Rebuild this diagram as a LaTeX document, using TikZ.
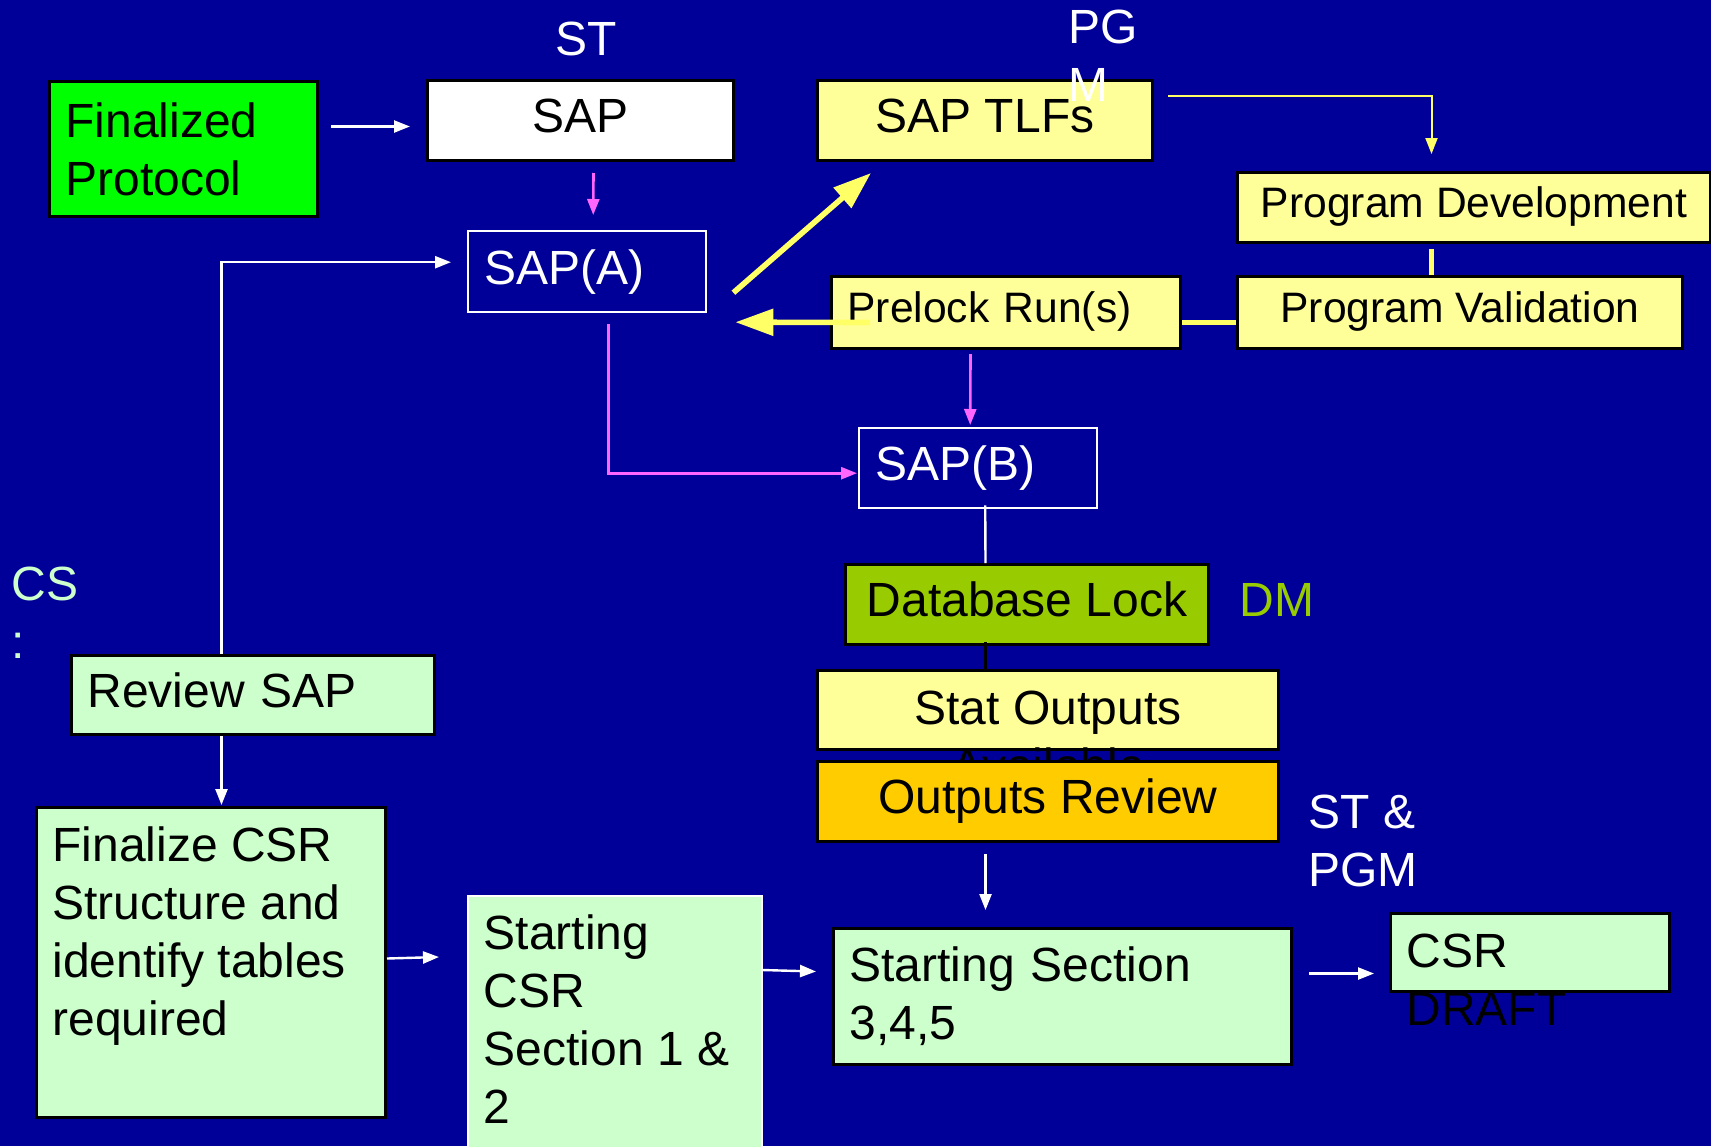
\documentclass[tikz,border=0pt]{standalone}
\usepackage{fontspec}
\setmainfont{Liberation Sans}
\usetikzlibrary{arrows.meta,calc}

\definecolor{bgblue}{HTML}{000099}
\definecolor{paleyellow}{HTML}{FFFF99}
\definecolor{palegreen}{HTML}{CCFFCC}
\definecolor{brightgreen}{HTML}{00FF00}
\definecolor{olivegreen}{HTML}{99CC00}
\definecolor{gold}{HTML}{FFCC00}
\definecolor{pinkline}{HTML}{FF66FF}
\definecolor{lineyellow}{HTML}{FFFF66}

\newcommand{\bigtxt}{\fontsize{24pt}{29pt}\selectfont}
\newcommand{\smalltxt}{\fontsize{21.3pt}{26pt}\selectfont}
% text hung from the top of a box of fixed size
\newcommand{\toptext}[4]{\parbox[c][#3][t]{#2}{#1\rule{0pt}{27pt}#4}}

\tikzset{
  box/.style={draw=black, line width=1.5pt, inner sep=0pt, anchor=north west, font=\bigtxt, text=black},
  midbox/.style={box, text depth=5pt},
  leftbox/.style={box, inner xsep=8pt, align=left},
  leftline/.style={leftbox, text depth=5pt},
  openbox/.style={leftline, draw=white, line width=1.2pt, fill=bgblue, text=white},
  tag/.style={inner sep=0pt, anchor=north west, align=left, font=\bigtxt, text=white},
  warrow/.style={draw=white, line width=1.2pt, -{Triangle[length=8pt,width=6pt]}},
  parrow/.style={draw=pinkline, line width=1.3pt, -{Triangle[length=8pt,width=6pt]}},
  yarrow/.style={draw=lineyellow, line width=2.8pt, -{Triangle[length=19pt,width=13pt]}},
  ythin/.style={draw=lineyellow, line width=1pt, -{Triangle[length=8pt,width=6pt]}},
  ythick/.style={draw=lineyellow, line width=2.6pt},
}

\begin{document}
\begin{tikzpicture}[x=0.5pt, y=-0.5pt]
  \path[use as bounding box, clip] (0,0) rectangle (1711,1146);
  \fill[bgblue] (0,0) rectangle (1711,1146);

  % top row
  \node[leftbox, fill=brightgreen, minimum width=134pt, minimum height=67.5pt, text width=118pt] (fin) at (48,80) {Finalized\\Protocol};
  \node[midbox, fill=white, minimum width=153pt, minimum height=40pt] (sap) at (426,79) {SAP};
  \node[midbox, fill=paleyellow, minimum width=167.5pt, minimum height=40pt] (tlf) at (816,79) {SAP TLFs};
  \node[openbox, minimum width=119pt, minimum height=40.5pt, text width=103pt] (sapa) at (467,230) {SAP(A)};

  % programming branch
  \node[midbox, fill=paleyellow, font=\smalltxt, minimum width=236.5pt, minimum height=35pt] (pdev) at (1236,171) {Program Development};
  \node[midbox, fill=paleyellow, font=\smalltxt, minimum width=222.5pt, minimum height=36pt] (pval) at (1236,275) {Program Validation};
  \node[leftline, fill=paleyellow, font=\smalltxt, minimum width=174.5pt, minimum height=36pt, text width=158.5pt] (pre) at (830,275) {Prelock Run(s)};
  \node[openbox, minimum width=119pt, minimum height=40pt, text width=103pt] (sapb) at (858,427) {SAP(B)};

  % lock and outputs
  \node[midbox, fill=olivegreen, minimum width=181.5pt, minimum height=40pt] (dbl) at (844,563) {Database Lock};
  \node[box, fill=paleyellow, minimum width=230.5pt, minimum height=39.5pt, inner xsep=8pt] (stat) at (816,669) {\toptext{\centering}{214.5pt}{39.5pt}{Stat Outputs\\Available}};
  \node[midbox, fill=gold, minimum width=230.5pt, minimum height=40pt] (orev) at (816,760) {Outputs Review};

  % CSR part
  \node[leftline, fill=palegreen, minimum width=181.5pt, minimum height=39.5pt, text width=165.5pt] (rev) at (70,654) {Review SAP};
  \node[box, fill=palegreen, minimum width=174.5pt, minimum height=155pt, inner xsep=8pt] (fcsr) at (35,806) {\toptext{\raggedright}{158.5pt}{155pt}{Finalize CSR\\Structure and\\identify tables\\required}};
  \node[box, draw=white, line width=0.8pt, fill=palegreen, minimum width=147pt, minimum height=150pt, inner xsep=8pt] (scsr) at (467,895) {\toptext{\raggedright}{131pt}{150pt}{Starting\\CSR\\Section 1 \&\\2}};
  \node[leftbox, fill=palegreen, minimum width=229pt, minimum height=68pt, text width=213pt] (s345) at (832,927) {Starting Section\\3,4,5};
  \node[box, fill=palegreen, minimum width=139.5pt, minimum height=39pt, inner xsep=8pt] (draft) at (1389,912) {\toptext{\raggedright}{123.5pt}{39pt}{CSR\\DRAFT}};

  % connectors
  \draw[warrow] ($(fin.east)+(12,-22.5)$) -- ($(sap.west)+(-16,6)$);
  \draw[parrow] ($(sap.south)+(13,11)$) -- ($(sapa.north)+(6,-15)$);
  \draw[yarrow] ($(sapa.east)+(26,21)$) -- ($(tlf.south west)+(55,11)$);
  \draw[ythin] ($(tlf.east)+(14,-25)$) -| ($(pdev.north)+(-42.5,-17)$);
  \draw[ythick] ($(pdev.south)+(-42.5,5)$) -- ($(pval.north)+(-28.5,0)$);
  \draw[ythick] ($(pre.east)+(0,10)$) -- ($(pval.west)+(0,10)$);
  \draw[yarrow] ($(pre.west)+(40,10)$) -- ($(sapa.east)+(28,50.5)$);
  \draw[parrow] ($(pre.south)+(-35.5,4)$) -- ($(sapb.north)+(-8,-2)$);
  \draw[parrow] ($(sapa.south)+(21,11)$) |- ($(sapb.west)+(-1,5)$);
  \draw[white, line width=1.2pt] ($(sapb.south)+(7,-4)$) -- ($(dbl.north)+(-41.5,0)$);
  \draw[black, line width=1.2pt] ($(dbl.south)+(-41.5,-4)$) -- ($(stat.north)+(-62.5,0)$);
  \draw[warrow] ($(orev.south)+(-62.5,11)$) -- ($(s345.north)+(-77,-17)$);
  \draw[warrow] ($(s345.east)+(16,-23)$) -- ($(draft.west)+(-15,21)$);
  \draw[warrow] ($(scsr.north east)+(0,75)$) -- ($(s345.west)+(-16,-25)$);
  \draw[warrow] ($(fcsr.east)+(0,-4)$) -- ($(scsr.north west)+(-28,62)$);
  \draw[warrow] ($(rev.south)+(-31.5,0)$) -- ($(fcsr.north)+(10.5,-1)$);
  \draw[warrow] ($(rev.north)+(-31.5,0)$) |- ($(sapa.west)+(-16,-9.5)$);

  % role labels
  \node[tag, anchor=north] (st) at (586,22) {ST};
  \node[tag] (pgm) at (1068,10) {PG\\M};
  \node[tag, text=olivegreen] (dm) at (1239,583) {DM};
  \node[tag] (stpgm) at (1308,795) {ST \&\\PGM};
  \node[tag, text=palegreen] (cs) at (11,567) {CS\\:};
\end{tikzpicture}
\end{document}
